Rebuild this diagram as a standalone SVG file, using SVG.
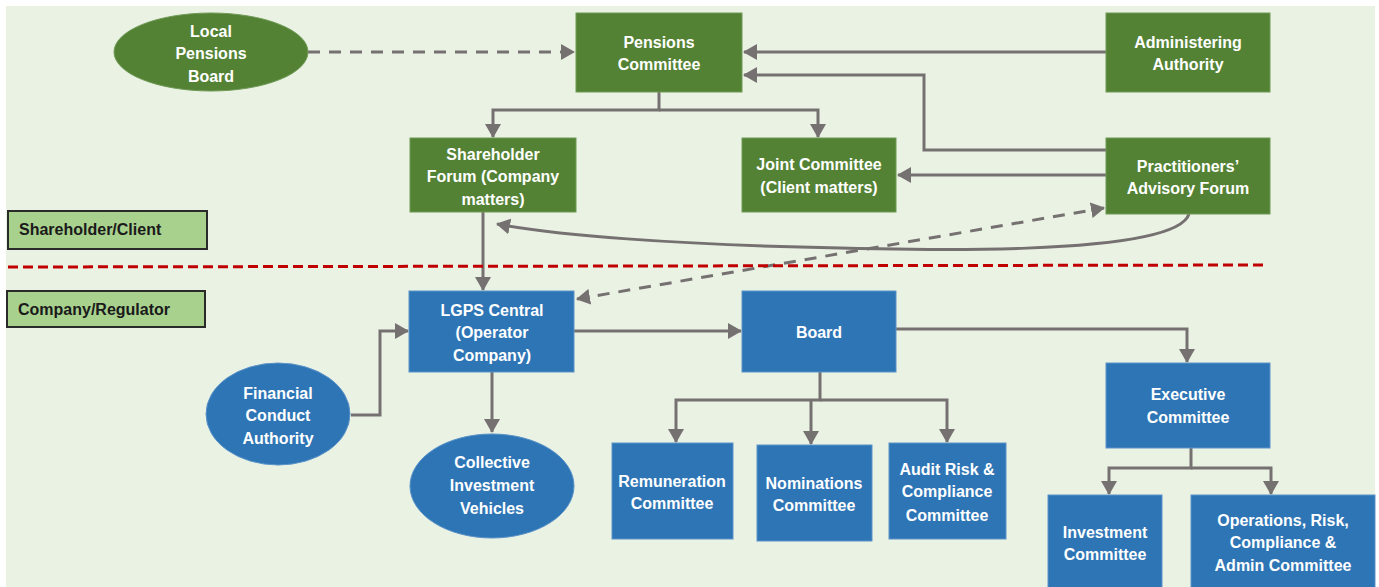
<svg xmlns="http://www.w3.org/2000/svg" width="1379" height="587" viewBox="0 0 1379 587">
<defs>
<style>
.g{fill:#548235;stroke:#6f9a55;stroke-width:1}
.b{fill:#2E75B6;stroke:#5a93c8;stroke-width:1}
.t{font-family:"Liberation Sans",Arial,sans-serif;font-weight:bold;font-size:16px;fill:#fff;text-anchor:middle}
.lbl{fill:#A9D18E;stroke:#2a2a2a;stroke-width:2}
.lt{font-family:"Liberation Sans",Arial,sans-serif;font-weight:bold;font-size:16px;fill:#1a1a1a}
.c{fill:none;stroke:#767171;stroke-width:3}
.d{stroke-dasharray:12 9}
</style>
<marker id="ah" markerUnits="userSpaceOnUse" markerWidth="14" markerHeight="16" refX="13" refY="8" orient="auto-start-reverse">
<path d="M0,0 L14,8 L0,16 z" fill="#767171"/>
</marker>
</defs>
<rect x="0" y="0" width="1379" height="587" fill="#ffffff"/>
<rect x="6" y="6" width="1369" height="581" fill="#EAF2E4"/>

<g id="connectors">
<line class="c d" x1="308" y1="52" x2="574" y2="52" marker-end="url(#ah)"/>
<line class="c" x1="1106" y1="52" x2="744" y2="52" marker-end="url(#ah)"/>
<polyline class="c" points="1106,150 924,150 924,75 744,75" marker-end="url(#ah)"/>
<polyline class="c" points="659,92 659,110 493,110 493,137" marker-end="url(#ah)"/>
<polyline class="c" points="659,110 818,110 818,137" marker-end="url(#ah)"/>
<line class="c" x1="1106" y1="175" x2="898" y2="175" marker-end="url(#ah)"/>
<path class="c" d="M1189,214 C1175,258 900,250 800,247 C680,244 560,236 497,224" marker-end="url(#ah)"/>
<line class="c d" x1="577" y1="299" x2="1104" y2="208" marker-start="url(#ah)" marker-end="url(#ah)"/>
<line class="c" x1="483" y1="212" x2="483" y2="290" marker-end="url(#ah)"/>
<polyline class="c" points="351,415 380,415 380,331 408,331" marker-end="url(#ah)"/>
<line class="c" x1="492" y1="372" x2="492" y2="432" marker-end="url(#ah)"/>
<line class="c" x1="574" y1="331" x2="741" y2="331" marker-end="url(#ah)"/>
<polyline class="c" points="820,372 820,400 676,400 676,442" marker-end="url(#ah)"/>
<polyline class="c" points="811,400 811,444" marker-end="url(#ah)"/>
<polyline class="c" points="820,400 947,400 947,442" marker-end="url(#ah)"/>
<polyline class="c" points="896,329 1187,329 1187,362" marker-end="url(#ah)"/>
<polyline class="c" points="1191,448 1191,468 1109,468 1109,494" marker-end="url(#ah)"/>
<polyline class="c" points="1191,468 1271,468 1271,494" marker-end="url(#ah)"/>
<line x1="8" y1="267" x2="1268" y2="265" stroke="#C00000" stroke-width="3" stroke-dasharray="10 5"/>
</g>

<g id="lbl-shareholder">
<rect class="lbl" x="8" y="211" width="199" height="38"/>
<text class="lt" x="19" y="235">Shareholder/Client</text>
</g>
<g id="lbl-company">
<rect class="lbl" x="7" y="291" width="198" height="36"/>
<text class="lt" x="18" y="315">Company/Regulator</text>
</g>

<g id="local-pensions-board">
<ellipse class="g" cx="211" cy="52" rx="97" ry="39"/>
<text class="t" x="211" y="37">Local</text>
<text class="t" x="211" y="59">Pensions</text>
<text class="t" x="211" y="82">Board</text>
</g>
<g id="pensions-committee">
<rect class="g" x="576" y="13" width="166" height="79"/>
<text class="t" x="659" y="48">Pensions</text>
<text class="t" x="659" y="70">Committee</text>
</g>
<g id="administering-authority">
<rect class="g" x="1106" y="13" width="164" height="79"/>
<text class="t" x="1188" y="48">Administering</text>
<text class="t" x="1188" y="70">Authority</text>
</g>
<g id="shareholder-forum">
<rect class="g" x="410" y="138" width="166" height="74"/>
<text class="t" x="493" y="160">Shareholder</text>
<text class="t" x="493" y="182">Forum (Company</text>
<text class="t" x="493" y="205">matters)</text>
</g>
<g id="joint-committee">
<rect class="g" x="742" y="138" width="154" height="74"/>
<text class="t" x="819" y="170">Joint Committee</text>
<text class="t" x="819" y="193">(Client matters)</text>
</g>
<g id="practitioners-forum">
<rect class="g" x="1106" y="138" width="164" height="76"/>
<text class="t" x="1188" y="172">Practitioners’</text>
<text class="t" x="1188" y="194">Advisory Forum</text>
</g>

<g id="lgps-central">
<rect class="b" x="409" y="291" width="165" height="81"/>
<text class="t" x="492" y="316">LGPS Central</text>
<text class="t" x="492" y="338">(Operator</text>
<text class="t" x="492" y="361">Company)</text>
</g>
<g id="fca">
<ellipse class="b" cx="278" cy="414" rx="72" ry="51"/>
<text class="t" x="278" y="399">Financial</text>
<text class="t" x="278" y="421">Conduct</text>
<text class="t" x="278" y="444">Authority</text>
</g>
<g id="civ">
<ellipse class="b" cx="492" cy="486" rx="82" ry="52"/>
<text class="t" x="492" y="468">Collective</text>
<text class="t" x="492" y="491">Investment</text>
<text class="t" x="492" y="514">Vehicles</text>
</g>
<g id="board">
<rect class="b" x="742" y="291" width="154" height="81"/>
<text class="t" x="819" y="338">Board</text>
</g>
<g id="remuneration">
<rect class="b" x="612" y="443" width="121" height="96"/>
<text class="t" x="672" y="487">Remuneration</text>
<text class="t" x="672" y="509">Committee</text>
</g>
<g id="nominations">
<rect class="b" x="757" y="445" width="115" height="96"/>
<text class="t" x="814" y="489">Nominations</text>
<text class="t" x="814" y="511">Committee</text>
</g>
<g id="audit">
<rect class="b" x="889" y="443" width="117" height="96"/>
<text class="t" x="947" y="475">Audit Risk &amp;</text>
<text class="t" x="947" y="497">Compliance</text>
<text class="t" x="947" y="521">Committee</text>
</g>
<g id="executive">
<rect class="b" x="1106" y="363" width="164" height="85"/>
<text class="t" x="1188" y="400">Executive</text>
<text class="t" x="1188" y="423">Committee</text>
</g>
<g id="investment">
<rect class="b" x="1048" y="495" width="114" height="96"/>
<text class="t" x="1105" y="538">Investment</text>
<text class="t" x="1105" y="560">Committee</text>
</g>
<g id="operations">
<rect class="b" x="1191" y="495" width="184" height="96"/>
<text class="t" x="1283" y="526">Operations, Risk,</text>
<text class="t" x="1283" y="548">Compliance &amp;</text>
<text class="t" x="1283" y="571">Admin Committee</text>
</g>
</svg>
